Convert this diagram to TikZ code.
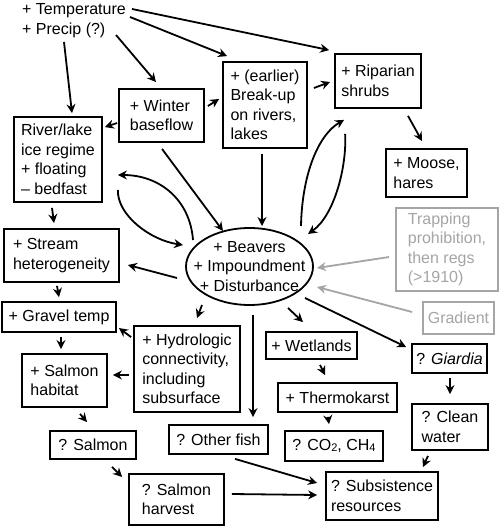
\documentclass[tikz,border=0pt]{standalone}
\usepackage{fontspec}
\setmainfont{Liberation Sans}
\usetikzlibrary{shapes.geometric,arrows.meta}
\definecolor{lg}{RGB}{165,165,165}
\tikzset{
 bx/.style={draw, line width=1.8pt, inner sep=0pt, align=left},
 gbx/.style={bx, draw=lg, text=lg},
 ar/.style={line width=1.8pt, -{Stealth[length=9pt,width=9pt,inset=3pt]}},
 gar/.style={ar, draw=lg, color=lg},
}
\begin{document}
\begin{tikzpicture}[x=1pt,y=-1pt,font=\fontsize{16}{19.5}\selectfont]
\useasboundingbox[fill=white] (0,0) rectangle (500,526);
% nodes
\node[anchor=west, align=left, inner sep=0pt] (clim) at (22,20.5) {+ Temperature\\+ Precip (?)};
\node[bx, minimum width=85pt, minimum height=53pt] (wint) at (161.5,115.5) {+ Winter\\baseflow};
\node[bx, minimum width=88pt, minimum height=85pt] (ice) at (58,159.5) {River/lake\\ice regime\\+ floating\\\textendash\ bedfast};
\node[bx, minimum width=84pt, minimum height=86pt] (brk) at (265,105) {+ (earlier)\\Break-up\\on rivers,\\lakes};
\node[bx, minimum width=86pt, minimum height=54pt] (rip) at (378,81) {+ Riparian\\shrubs};
\node[bx, minimum width=81pt, minimum height=48pt] (moose) at (426.5,173) {+ Moose,\\hares};
\node[gbx, minimum width=102pt, minimum height=83pt] (trap) at (447,249.5) {Trapping\\prohibition,\\then regs\\(>1910)};
\node[gbx, minimum width=71pt, minimum height=32pt] (grad) at (458.5,318) {Gradient};
\node[draw, ellipse, line width=1.8pt, inner sep=0pt, minimum width=127pt, minimum height=77pt] (bv) at (249.5,266.5) {};
\node[align=center, inner sep=0pt] (bvt) at (bv.center) {+ Beavers\\+ Impoundment\\+ Disturbance};
\node[bx, minimum width=115pt, minimum height=53pt] (strm) at (61.5,255.5) {+ Stream\\heterogeneity};
\node[bx, minimum width=114pt, minimum height=30pt] (grav) at (59,317) {+ Gravel temp};
\node[bx, minimum width=106pt, minimum height=86pt] (hyd) at (187,369) {+ Hydrologic\\connectivity,\\including\\subsurface};
\node[bx, minimum width=85pt, minimum height=53pt] (shab) at (64.5,380.5) {+ Salmon\\habitat};
\node[bx, minimum width=86pt, minimum height=28pt] (salm) at (93,445) {? Salmon};
\node[bx, minimum width=95pt, minimum height=51pt] (harv) at (176.5,499.5) {? Salmon\\harvest};
\node[bx, minimum width=99pt, minimum height=29pt] (fish) at (218.5,439.5) {? Other fish};
\node[bx, minimum width=91pt, minimum height=27pt] (wet) at (311.5,345.5) {+ Wetlands};
\node[bx, minimum width=119pt, minimum height=29pt] (therm) at (337.5,397.5) {+ Thermokarst};
\node[bx, minimum width=98pt, minimum height=30pt] (co2) at (334,446) {? CO{\fontsize{11}{11}\selectfont\raisebox{-0.5pt}{2}}, CH{\fontsize{11}{11}\selectfont\raisebox{-0.5pt}{4}}};
\node[bx, minimum width=75pt, minimum height=29pt] (giar) at (449.5,358.5) {? \textit{Giardia}};
\node[bx, minimum width=76pt, minimum height=46pt] (clean) at (450,427) {? Clean\\water};
\node[bx, minimum width=112pt, minimum height=48pt] (subs) at (382,496) {? Subsistence\\resources};
% connectors
\draw[ar] ([shift={(6,-11.5)}]clim.east) -- ([shift={(-5,-3)}]rip.north west);
\draw[ar] ([shift={(4,-3.5)}]clim.east) -- ([shift={(5,-5)}]brk.north west);
\draw[ar] ([shift={(-10,14.5)}]clim.east) -- ([shift={(-5.5,-6)}]wint.north);
\draw[ar] ([shift={(42,21.5)}]clim.west) -- ([shift={(14,-3)}]ice.north);
\draw[ar] ([shift={(-1,7.5)}]wint.west) -- ([shift={(2,11)}]ice.north east);
\draw[ar] ([shift={(3,-9.5)}]wint.east) -- ([shift={(-3,-6)}]brk.west);
\draw[ar] ([shift={(6,-17)}]brk.east) -- ([shift={(-4,1)}]rip.west);
\draw[ar] ([shift={(30,7)}]rip.south) -- ([shift={(-4.5,-7)}]moose.north);
\draw[ar] ([shift={(0.5,6)}]wint.south) -- ([shift={(-26.5,-35.5)}]bv.center);
\draw[ar] ([shift={(-3,5)}]brk.south) -- ([shift={(12.5,-40.5)}]bv.center);
\draw[ar] ([shift={(51.5,-40.5)}]bv.center) .. controls (302,175) and (318,135) .. ([shift={(10,11)}]rip.south west);
\draw[ar] ([shift={(11,25)}]rip.south west) .. controls (347,165) and (335,215) .. ([shift={(58.5,-32.5)}]bv.center);
\draw[ar] ([shift={(-56.5,-26.5)}]bv.center) .. controls (190,200) and (160,175) .. ([shift={(15,15.5)}]ice.east);
\draw[ar] ([shift={(15,30.5)}]ice.east) .. controls (117,215) and (150,240) .. ([shift={(-66.5,-21.5)}]bv.center);
\draw[ar] ([shift={(-72.5,11.5)}]bv.center) -- ([shift={(8,9.5)}]strm.east);
\draw[ar] ([shift={(-6,5)}]ice.south) -- ([shift={(-7.5,-5)}]strm.north);
\draw[ar] ([shift={(-4.5,3)}]strm.south) -- ([shift={(0,-4)}]grav.north);
\draw[ar] ([shift={(-2,12)}]hyd.north west) -- ([shift={(2,11)}]grav.east);
\draw[ar] ([shift={(2,4)}]grav.south) -- ([shift={(-3.5,-4)}]shab.north);
\draw[ar] ([shift={(-4,6)}]hyd.west) -- ([shift={(5,-5.5)}]shab.east);
\draw[ar] ([shift={(-47.5,38.5)}]bv.center) -- ([shift={(10,-7)}]hyd.north);
\draw[ar] ([shift={(15.5,6)}]shab.south) -- ([shift={(-6,-8)}]salm.north);
\draw[ar] ([shift={(19,7)}]salm.south) -- ([shift={(-6,-22.5)}]harv.west);
\draw[ar] ([shift={(3.5,48.5)}]bv.center) -- ([shift={(34.5,-7)}]fish.north);
\draw[ar] ([shift={(38.5,41.5)}]bv.center) -- ([shift={(-8.5,-9)}]wet.north);
\draw[ar] ([shift={(8.5,5)}]wet.south) -- ([shift={(-12.5,-7)}]therm.north);
\draw[ar] ([shift={(-9.5,4)}]therm.south) -- ([shift={(-5,-6)}]co2.north);
\draw[ar] ([shift={(55.5,31.5)}]bv.center) -- ([shift={(-5,-11.5)}]giar.west);
\draw[ar] ([shift={(0.5,4)}]giar.south) -- ([shift={(0,-9)}]clean.north);
\draw[ar] ([shift={(-22,5)}]clean.south) -- ([shift={(-16,-4)}]subs.north east);
\draw[ar] ([shift={(16.5,4)}]fish.south) -- ([shift={(-8,-13)}]subs.west);
\draw[ar] ([shift={(7,-5.5)}]harv.east) -- ([shift={(-8,-1)}]subs.west);
\draw[gar] ([shift={(-6,7.5)}]trap.west) -- ([shift={(67.5,1.5)}]bv.center);
\draw[gar] ([shift={(-10,-6)}]grad.west) -- ([shift={(67.5,20.5)}]bv.center);
\end{tikzpicture}
\end{document}
